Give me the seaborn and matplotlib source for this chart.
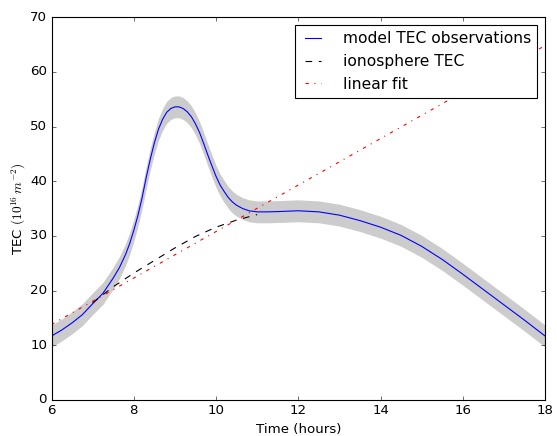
import matplotlib
matplotlib.use("Agg")
import matplotlib.pyplot as plt
import seaborn as sns
import numpy as np

# model TEC observations (blue curve) and its +/- band
hours = [6.0, 6.25, 6.5, 6.75, 7.0, 7.25, 7.5, 7.65, 7.8, 7.9, 8.0, 8.1, 8.2,
         8.3, 8.4, 8.5, 8.6, 8.7, 8.8, 8.9, 9.0, 9.1, 9.2, 9.3, 9.4, 9.5,
         9.6, 9.7, 9.8, 9.9, 10.0, 10.1, 10.2, 10.3, 10.4, 10.5, 10.65, 10.8,
         11.0, 11.25, 11.5, 12.0, 12.5, 13.0, 13.5, 14.0, 14.5, 15.0, 15.5,
         16.0, 16.5, 17.0, 17.5, 18.0]
tec_model = [11.7, 12.8, 14.1, 15.6, 17.6, 19.5, 22.3, 24.2, 26.6, 28.6, 31.0, 33.7, 36.9,
             40.6, 44.0, 47.0, 49.5, 51.3, 52.6, 53.3, 53.6, 53.6, 53.3, 52.7, 51.8, 50.5,
             48.9, 46.9, 44.8, 42.8, 40.9, 39.3, 38.1, 37.0, 36.2, 35.6, 35.0, 34.6,
             34.4, 34.4, 34.45, 34.6, 34.4, 33.8, 32.8, 31.6, 30.1, 28.1, 25.7,
             23.0, 20.2, 17.4, 14.6, 11.7]
band = 2.0

# ionosphere TEC (black dashed)
iono_hours = [7.0, 7.5, 8.0, 8.5, 9.0, 9.5, 10.0, 10.5, 11.0]
iono_tec = [17.8, 20.7, 23.2, 25.5, 27.8, 29.9, 31.6, 32.9, 33.9]

# linear fit (red dash-dot)
fit_hours = [6.0, 18.0]
fit_tec = [13.8, 64.8]

plt.style.use('classic')
plt.rcParams['figure.facecolor'] = 'white'
plt.rcParams['savefig.facecolor'] = 'white'
plt.rcParams['font.size'] = 12

fig = plt.figure(figsize=(557 / 80, 436 / 80), dpi=80)
ax = fig.add_axes([0.0925, 0.0826, 0.886, 0.878])

lo = np.array(tec_model) - band
hi = np.array(tec_model) + band
ax.fill_between(hours, lo, hi, color='0.8', linewidth=0)

sns.lineplot(x=hours, y=tec_model, ax=ax, color='b', linewidth=1,
             label='model TEC observations')
sns.lineplot(x=iono_hours, y=iono_tec, ax=ax, color='k', linewidth=1,
             linestyle='--', label='ionosphere TEC')
sns.lineplot(x=fit_hours, y=fit_tec, ax=ax, color='r', linewidth=1,
             linestyle='-.', label='linear fit')

ax.set_xlim(6, 18)
ax.set_ylim(0, 70)
ax.set_xlabel('Time (hours)')
ax.set_ylabel(r'TEC $(10^{16}\,m^{-2})$', labelpad=2)
ax.legend(loc='upper right', fontsize=14, handlelength=1.6,
          handletextpad=1.1, borderaxespad=0.5)

plt.savefig('out.png', dpi=80)
